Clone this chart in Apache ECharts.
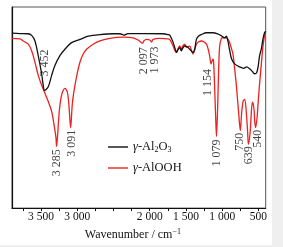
<!DOCTYPE html>
<html>
<head>
<meta charset="utf-8">
<script src="https://cdn.jsdelivr.net/npm/echarts@6/dist/echarts.min.js"></script>
<style>html,body{margin:0;padding:0;background:#fff}#c{width:283px;height:247px}</style>
</head>
<body>
<div id="c"></div>
<script>
// γ-Al2O3 (black)
const alWn = [3900,3790,3680,3629,3583,3538,3491,3469,3452,3400,3353,3308,3239,3170,3078,2963,2849,2688,2505,2412,2353,2302,2045,1816,1747,1724,1682,1648,1631,1614,1586,1563,1545,1517,1476,1448,1403,1379,1356,1324,1287,1218,1127,1063,1008,967,943,926,897,870,829,760,704,663,622,580,553,525,505,484,461,439,415,400];
const alT  = [87.0,86.8,86.7,85.9,83.1,75.8,66.8,61.1,58.5,60.3,66.0,70.9,75.8,79.0,82.3,83.9,85.5,86.3,86.7,86.7,86.0,86.8,86.8,86.7,86.3,86.0,82.9,79.0,77.4,78.5,79.8,78.2,79.5,80.6,80.0,79.0,77.4,79.0,83.9,85.6,86.3,87.2,87.2,86.6,85.6,84.7,85.5,83.9,78.4,74.1,71.7,70.2,69.5,70.2,69.3,67.8,66.8,67.3,70.2,75.8,79.0,83.9,87.3,88.0];
// γ-AlOOH (red)
const booWn = [3900,3790,3744,3675,3629,3583,3538,3491,3445,3400,3353,3321,3294,3285,3273,3248,3225,3202,3170,3138,3115,3091,3069,3046,3009,2963,2918,2871,2780,2688,2550,2367,2229,2160,2097,2082,2045,1999,1973,1954,1862,1747,1724,1682,1648,1631,1614,1586,1563,1545,1517,1496,1476,1448,1421,1403,1379,1356,1324,1287,1255,1218,1193,1173,1154,1141,1127,1118,1104,1090,1079,1063,1049,1035,1011,989,943,920,897,870,851,828,801,773,750,732,711,690,670,649,639,615,594,580,560,553,540,519,505,484,461,439,415,400];
const booT  = [84.4,84.2,83.1,81.5,78.2,72.5,66.0,61.1,57.1,53.0,48.1,41.6,35.1,30.7,35.1,48.1,54.6,57.9,59.5,57.9,51.4,40.0,51.4,57.9,65.4,72.5,76.6,79.0,81.5,83.1,84.4,85.0,84.7,83.6,82.0,83.1,83.9,83.6,82.6,83.9,84.4,84.2,83.9,81.0,78.0,77.3,79.0,80.6,79.0,80.5,81.5,80.0,80.2,80.5,78.0,76.6,79.0,81.5,82.7,83.1,82.7,81.5,79.0,75.6,71.7,73.2,74.1,72.2,59.5,44.9,35.6,49.8,69.3,80.5,84.4,84.7,84.7,83.9,82.3,79.0,76.6,69.3,59.5,47.3,38.5,47.3,53.2,54.1,48.8,37.6,31.7,37.6,49.8,52.7,48.8,43.9,40.0,44.9,52.2,62.0,71.2,80.0,85.9,87.8];
// peak annotations
const peakText = ['3 452','3 285','3 091','2 097','1 973','1 154','1 079','750','639','540'];
const peakWn   = [3452,3285,3091,2097,1973,1154,1079,750,639,540];
const peakSeries = [0,1,1,1,1,1,1,1,1,1];
// tick values
const tickVals  = [500,750,1000,1250,1500,1750,2000,2250,2500,2750,3000,3250,3500,3750];
const labelVals = [500,1000,1500,2000,3000,3500];

const labelOffsets = [[0.5,-14],[0,3],[1,2],[1,4],[3,4.5],[-3,5],[0,3],[-0.7,2],[0,2],[2.4,2]];

const FONT = 'Liberation Serif';
const zip = (a,b)=>a.map((v,i)=>[v,b[i]]);
const lookup = (s,w)=>{const W=s===0?alWn:booWn, T=s===0?alT:booT; return T[W.indexOf(w)];};
const fmt = v => v>=1000 ? Math.floor(v/1000)+' '+String(v%1000).padStart(3,'0') : String(v);

const annData = peakText.map((t,i)=>({
  value:[peakWn[i], lookup(peakSeries[i], peakWn[i])],
  label:{
    formatter:t,
    position:labelOffsets[i],
    align: i===0 ? 'left' : 'right'
  }
}));

const chart = echarts.init(document.getElementById('c'), null, {renderer:'canvas'});
chart.setOption({
  backgroundColor:'#fff',
  animation:false,
  grid:{left:12, right:17.3, top:7, bottom:35.3, show:true, borderColor:'#555', borderWidth:1},
  xAxis:{
    type:'value', inverse:true, min:400, max:3900,
    axisLine:{show:true, lineStyle:{color:'#111', width:1.2}},
    axisTick:{show:true, customValues:tickVals, length:3, lineStyle:{color:'#111'}},
    axisLabel:{customValues:labelVals, formatter:fmt, color:'#111', fontFamily:FONT, fontSize:11.5, margin:3},
    splitLine:{show:false},
    name:'Wavenumber / cm{sup|−1}', nameLocation:'middle', nameGap:18,
    nameTextStyle:{color:'#111', fontFamily:FONT, fontSize:12, lineHeight:14, padding:[0,12,0,0],
      rich:{sup:{fontSize:8, lineHeight:8, verticalAlign:'top', fontFamily:FONT, color:'#111'}}}
  },
  yAxis:{
    type:'value', min:0, max:100,
    axisLine:{show:true, lineStyle:{color:'#111', width:1.2}},
    axisTick:{show:false}, axisLabel:{show:false}, splitLine:{show:false}
  },
  legend:{
    orient:'vertical', left:103, top:135, itemWidth:20, itemHeight:1.4, itemGap:7,
    icon:'rect',
    data:['γ-Al2O3','γ-AlOOH'],
    formatter: n => n==='γ-Al2O3' ? '{g|γ}-Al{s|2}O{s|3}' : '{g|γ}-AlOOH',
    textStyle:{color:'#111', fontFamily:FONT, fontSize:12.5, lineHeight:14, padding:[0,0,0,0],
      rich:{g:{fontStyle:'italic', fontFamily:FONT, fontSize:12.5, color:'#111'},
            s:{fontSize:8, lineHeight:8, verticalAlign:'bottom', fontFamily:FONT, color:'#111'}}}
  },
  series:[
    {name:'γ-Al2O3', type:'line', data:zip(alWn,alT), symbol:'none', smooth:0.3,
     lineStyle:{color:'#111', width:1.3}, itemStyle:{color:'#111'}, z:3},
    {name:'γ-AlOOH', type:'line', data:zip(booWn,booT), symbol:'none', smooth:0.3,
     lineStyle:{color:'#ee2020', width:1.3}, itemStyle:{color:'#ee2020'}, z:2},
    {name:'peaks', type:'scatter', data:annData, symbolSize:0, silent:true,
     label:{show:true, rotate:90, verticalAlign:'middle', color:'#111', fontFamily:FONT, fontSize:12}}
  ],
  graphic:[
    {type:'rect', shape:{x:272, y:0, width:11, height:247}, style:{fill:'#efefef'}, z:-10, silent:true},
    {type:'rect', shape:{x:0, y:245, width:283, height:2}, style:{fill:'#efefef'}, z:-10, silent:true}
  ]
});
</script>
</body>
</html>
